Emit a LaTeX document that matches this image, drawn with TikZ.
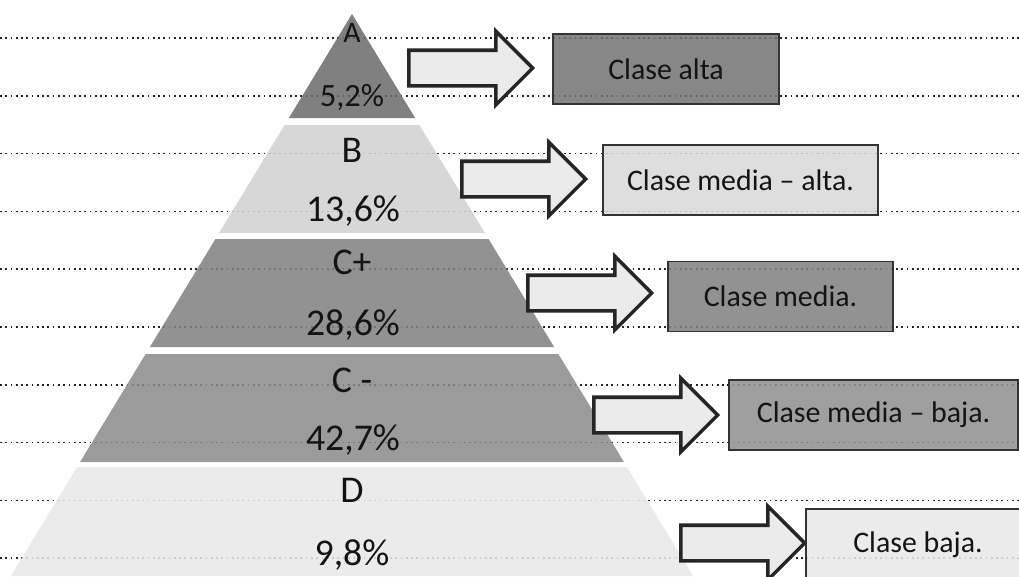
\documentclass[tikz,border=0pt]{standalone}
\usepackage{fontspec}
\setmainfont{Carlito}
\usetikzlibrary{shapes.arrows}

\begin{document}
\begin{tikzpicture}[x=0.02cm,y=-0.02cm,
  guide/.style={dotted,line width=1pt,black!85},
  layer/.style={fill opacity=0.86},
  lvl/.style={font=\fontsize{21.5}{25}\selectfont,text=black!92,inner sep=0pt},
  blockarrow/.style={single arrow,draw=black!85,line width=2pt,fill=black!8,minimum height=2.48cm,inner xsep=0pt,inner ysep=0.32cm,single arrow head extend=0.38cm,anchor=tail},
  classbox/.style={draw=black!80,line width=0.9pt,fill opacity=0.86,text opacity=1,minimum height=1.4cm,font=\fontsize{17}{20}\selectfont,text=black!92}]

    \useasboundingbox (0,0) rectangle (1019,576);
    \clip (0,0) rectangle (1019,576);

    \draw[guide] (0,38) -- (1019,38);
    \draw[guide] (0,95.8) -- (1019,95.8);
    \draw[guide] (0,153.6) -- (1019,153.6);
    \draw[guide] (0,211.4) -- (1019,211.4);
    \draw[guide] (0,269.2) -- (1019,269.2);
    \draw[guide] (0,327) -- (1019,327);
    \draw[guide] (0,384.8) -- (1019,384.8);
    \draw[guide] (0,442.6) -- (1019,442.6);
    \draw[guide] (0,500.4) -- (1019,500.4);
    \draw[guide] (0,558.2) -- (1019,558.2);

    \pgfmathsetmacro{\pyrx}{352}
    \pgfmathsetmacro{\pyrslope}{0.607}

    \fill[layer,black!58] (\pyrx,14) -- ({\pyrx+\pyrslope*(118-14)},118) -- ({\pyrx-\pyrslope*(118-14)},118) -- cycle;
    \fill[layer,black!18] ({\pyrx-\pyrslope*(125-14)},125) -- ({\pyrx+\pyrslope*(125-14)},125)
      -- ({\pyrx+\pyrslope*(233-14)},233) -- ({\pyrx-\pyrslope*(233-14)},233) -- cycle;
    \fill[layer,black!50] ({\pyrx-\pyrslope*(239-14)},239) -- ({\pyrx+\pyrslope*(239-14)},239)
      -- ({\pyrx+\pyrslope*(347-14)},347) -- ({\pyrx-\pyrslope*(347-14)},347) -- cycle;
    \fill[layer,black!46] ({\pyrx-\pyrslope*(354-14)},354) -- ({\pyrx+\pyrslope*(354-14)},354)
      -- ({\pyrx+\pyrslope*(462-14)},462) -- ({\pyrx-\pyrslope*(462-14)},462) -- cycle;
    \fill[layer,black!9] ({\pyrx-\pyrslope*(467-14)},467) -- ({\pyrx+\pyrslope*(467-14)},467)
      -- ({\pyrx+\pyrslope*(576-14)},576) -- ({\pyrx-\pyrslope*(576-14)},576) -- cycle;

    \node[lvl,font=\fontsize{17}{20}\selectfont] (lA) at (352,33) {A};
    \node[lvl,font=\fontsize{18.5}{22}\selectfont] (pA) at (352,97) {5,2\%};
    \node[lvl] (lB) at (352,150) {B};
    \node[lvl] (pB) at (353,211) {13,6\%};
    \node[lvl] (lCp) at (352,262) {C+};
    \node[lvl] (pCp) at (353,325) {28,6\%};
    \node[lvl] (lCm) at (352,380) {C -};
    \node[lvl] (pCm) at (353,440) {42,7\%};
    \node[lvl] (lD) at (352,490) {D};
    \node[lvl] (pD) at (352,555) {9,8\%};

    \node[blockarrow] (fA) at (407,68) {};
    \node[blockarrow] (fB) at (460,179) {};
    \node[blockarrow] (fCp) at (526,293) {};
    \node[blockarrow] (fCm) at (592,415) {};
    \node[blockarrow] (fD) at (679,543) {};

    \node[classbox,fill=black!55,minimum width=4.52cm] (cA) at (666,69) {Clase alta};
    \node[classbox,fill=black!15,minimum width=5.5cm] (cB) at (740.5,180) {Clase media -- alta.};
    \node[classbox,fill=black!50,minimum width=4.5cm] (cCp) at (780.5,296.5) {Clase media.};
    \node[classbox,fill=black!44,minimum width=5.78cm] (cCm) at (873.5,415) {Clase media -- baja.};
    \node[classbox,fill=black!9,minimum width=4.48cm,minimum height=1.42cm] (cD) at (918,544.5) {Clase baja.};

  \end{tikzpicture}
\end{document}
